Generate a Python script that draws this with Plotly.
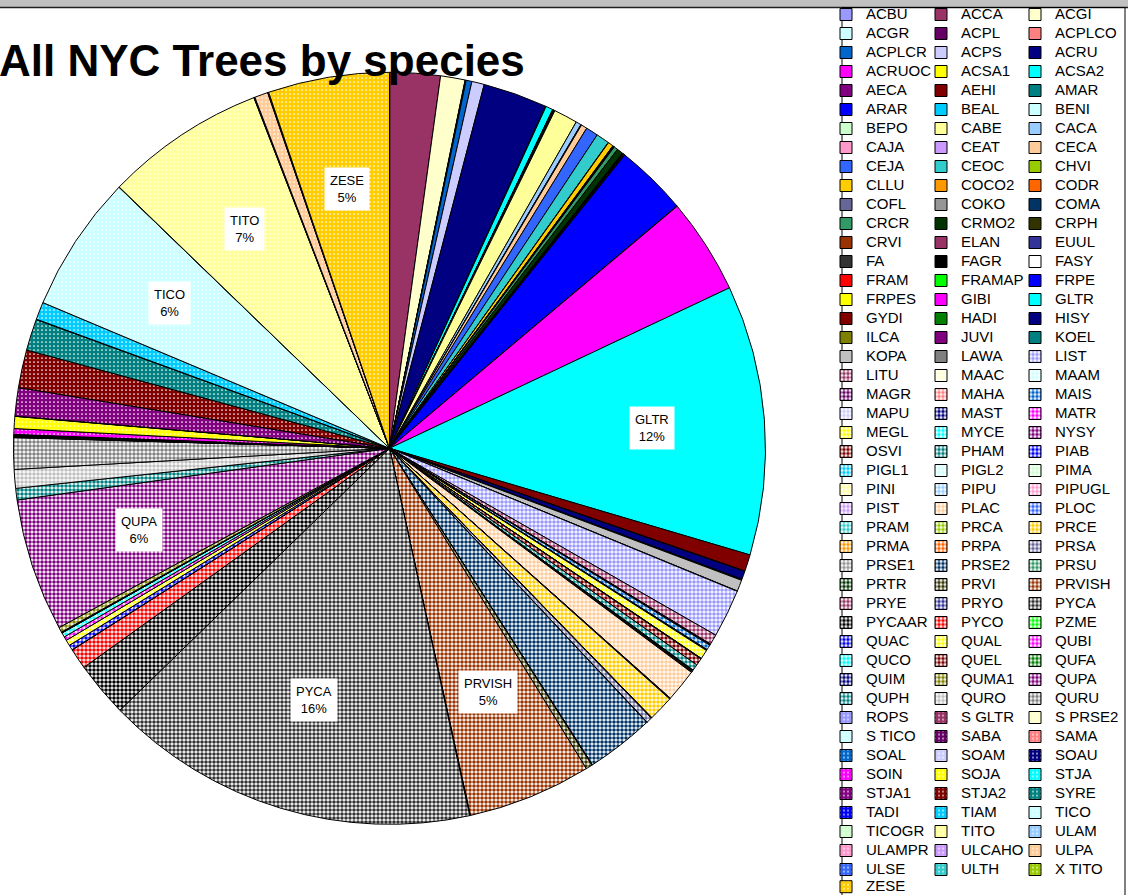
import math
import plotly.graph_objects as go

W, H = 1128, 895
FONT = "Liberation Sans, Arial, sans-serif"

# ---------------- data (legend order, 3 per row) ----------------
species = [
    "ACBU", "ACCA", "ACGI",
    "ACGR", "ACPL", "ACPLCO",
    "ACPLCR", "ACPS", "ACRU",
    "ACRUOC", "ACSA1", "ACSA2",
    "AECA", "AEHI", "AMAR",
    "ARAR", "BEAL", "BENI",
    "BEPO", "CABE", "CACA",
    "CAJA", "CEAT", "CECA",
    "CEJA", "CEOC", "CHVI",
    "CLLU", "COCO2", "CODR",
    "COFL", "COKO", "COMA",
    "CRCR", "CRMO2", "CRPH",
    "CRVI", "ELAN", "EUUL",
    "FA", "FAGR", "FASY",
    "FRAM", "FRAMAP", "FRPE",
    "FRPES", "GIBI", "GLTR",
    "GYDI", "HADI", "HISY",
    "ILCA", "JUVI", "KOEL",
    "KOPA", "LAWA", "LIST",
    "LITU", "MAAC", "MAAM",
    "MAGR", "MAHA", "MAIS",
    "MAPU", "MAST", "MATR",
    "MEGL", "MYCE", "NYSY",
    "OSVI", "PHAM", "PIAB",
    "PIGL1", "PIGL2", "PIMA",
    "PINI", "PIPU", "PIPUGL",
    "PIST", "PLAC", "PLOC",
    "PRAM", "PRCA", "PRCE",
    "PRMA", "PRPA", "PRSA",
    "PRSE1", "PRSE2", "PRSU",
    "PRTR", "PRVI", "PRVISH",
    "PRYE", "PRYO", "PYCA",
    "PYCAAR", "PYCO", "PZME",
    "QUAC", "QUAL", "QUBI",
    "QUCO", "QUEL", "QUFA",
    "QUIM", "QUMA1", "QUPA",
    "QUPH", "QURO", "QURU",
    "ROPS", "S GLTR", "S PRSE2",
    "S TICO", "SABA", "SAMA",
    "SOAL", "SOAM", "SOAU",
    "SOIN", "SOJA", "STJA",
    "STJA1", "STJA2", "SYRE",
    "TADI", "TIAM", "TICO",
    "TICOGR", "TITO", "ULAM",
    "ULAMPR", "ULCAHO", "ULPA",
    "ULSE", "ULTH", "X TITO",
    "ZESE",
]

# estimated share of all trees (%), same order as species
share_pct = [
    0.015, 2.17, 1.06,
    0.015, 0.015, 0.015,
    0.25, 0.54, 2.77,
    0.015, 0.015, 0.31,
    0.015, 0.015, 0.015,
    0.015, 0.015, 0.015,
    0.015, 1.03, 0.23,
    0.015, 0.015, 0.26,
    0.53, 0.57, 0.015,
    0.23, 0.015, 0.015,
    0.015, 0.015, 0.015,
    0.17, 0.26, 0.015,
    0.015, 0.015, 0.015,
    0.015, 0.015, 0.015,
    0.015, 0.015, 3.11,
    0.015, 4.14, 11.67,
    0.72, 0.015, 0.36,
    0.015, 0.015, 0.015,
    0.49, 0.015, 2.08,
    0.44, 0.015, 0.015,
    0.015, 0.015, 0.22,
    0.015, 0.015, 0.015,
    0.40, 0.015, 0.015,
    0.31, 0.27, 0.015,
    0.015, 0.015, 0.015,
    0.015, 0.015, 0.015,
    0.015, 1.42, 0.015,
    0.015, 0.015, 1.10,
    0.015, 0.015, 0.25,
    0.015, 2.94, 0.015,
    0.015, 0.28, 5.35,
    0.015, 0.015, 16.25,
    2.39, 0.89, 0.015,
    0.22, 0.25, 0.17,
    0.19, 0.015, 0.015,
    0.015, 0.22, 5.75,
    0.50, 0.81, 1.36,
    0.015, 0.015, 0.015,
    0.015, 0.015, 0.015,
    0.015, 0.015, 0.015,
    0.25, 0.52, 0.015,
    1.22, 1.64, 1.36,
    0.015, 0.76, 5.92,
    0.015, 6.94, 0.015,
    0.015, 0.015, 0.58,
    0.015, 0.015, 0.015,
    5.24,
]

title_text = "All NYC Trees by species"

# ---------------- styling ----------------
excel_palette = [
    "#9999FF", "#993366", "#FFFFCC", "#CCFFFF", "#660066", "#FF8080", "#0066CC", "#CCCCFF",
    "#000080", "#FF00FF", "#FFFF00", "#00FFFF", "#800080", "#800000", "#008080", "#0000FF",
    "#00CCFF", "#CCFFFF", "#CCFFCC", "#FFFF99", "#99CCFF", "#FF99CC", "#CC99FF", "#FFCC99",
    "#3366FF", "#33CCCC", "#99CC00", "#FFCC00", "#FF9900", "#FF6600", "#666699", "#969696",
    "#003366", "#339966", "#003300", "#333300", "#993300", "#993366", "#333399", "#333333",
    "#000000", "#FFFFFF", "#FF0000", "#00FF00", "#0000FF", "#FFFF00", "#FF00FF", "#00FFFF",
    "#800000", "#008000", "#000080", "#808000", "#800080", "#008080", "#C0C0C0", "#808080",
]
palette_no_white = [c for c in excel_palette if c != "#FFFFFF"]

colors, shapes, fgs, bgs, psizes, solids = [], [], [], [], [], []
for i in range(len(species)):
    n1 = len(excel_palette)
    n2 = n1 + len(palette_no_white)
    if i < n1:
        c = excel_palette[i]
        colors.append(c); shapes.append(""); fgs.append(c); bgs.append(c)
        psizes.append(4); solids.append(0.5)
    elif i < n2:
        c = palette_no_white[i - n1]
        colors.append(c); shapes.append("."); fgs.append(c); bgs.append("#FFFFFF")
        psizes.append(4); solids.append(0.62)
    else:
        c = excel_palette[(i - n2) % n1]
        colors.append(c); shapes.append("."); fgs.append("#FFFFFF"); bgs.append(c)
        psizes.append(4); solids.append(0.15)

# pie geometry (pixels)
CX, CY, R = 389.5, 448.3, 376.0
pie_domain = dict(x=[(CX - R) / W, (CX + R) / W], y=[(H - CY - R) / H, (H - CY + R) / H])


def marker_for(idx):
    return dict(
        colors=[colors[i] for i in idx],
        line=dict(color="black", width=1),
        pattern=dict(
            shape=[shapes[i] for i in idx],
            fgcolor=[fgs[i] for i in idx],
            bgcolor=[bgs[i] for i in idx],
            size=[psizes[i] for i in idx],
            solidity=[solids[i] for i in idx],
            fillmode="replace",
        ),
    )


all_idx = list(range(len(species)))
fig = go.Figure()
fig.add_trace(go.Pie(
    labels=species, values=share_pct, sort=False, direction="clockwise", rotation=0,
    marker=marker_for(all_idx), textinfo="none", showlegend=False,
    domain=pie_domain, hoverinfo="label+percent",
))

# legend columns (legend rows are 3 wide)
last = len(species) - 1
col1 = [i for i in all_idx if i % 3 == 0 and i != last]
col2 = [i for i in all_idx if i % 3 == 1]
col3 = [i for i in all_idx if i % 3 == 2]
col4 = [last]


def leg_label(s):
    return '<span style="font-size:15px">' + s + "</span>"


for idx, lid in [(col1, "legend"), (col2, "legend2"), (col3, "legend3"), (col4, "legend4")]:
    fig.add_trace(go.Pie(
        labels=[leg_label(species[i]) for i in idx],
        values=[share_pct[i] for i in idx],
        sort=False, direction="clockwise",
        marker=marker_for(idx), textinfo="none", hoverinfo="skip",
        domain=dict(x=[0.99, 0.9900001], y=[0.98, 0.9800001]),
        legend=lid, showlegend=True,
    ))

# data labels for the big slices
total = sum(share_pct)
annotations = []
cum = 0.0
for name, v in zip(species, share_pct):
    pct = v / total * 100
    if pct >= 5:
        mid = (cum + v / 2) / total * 2 * math.pi
        px = CX + 0.7 * R * math.sin(mid)
        py = CY - 0.7 * R * math.cos(mid)
        annotations.append(dict(
            x=px / W, y=1 - py / H, xref="paper", yref="paper", showarrow=False,
            xanchor="center", yanchor="middle",
            text=f"{name}<br>{pct:.0f}%", bgcolor="white", borderpad=5,
            font=dict(family=FONT, size=13, color="black"),
        ))
    cum += v

annotations.append(dict(
    x=0, y=1 - 60.7 / H, xref="paper", yref="paper", xanchor="left", yanchor="middle",
    xshift=-3, showarrow=False, text="<b>" + title_text + "</b>",
    font=dict(family=FONT, size=44, color="black"),
))

leg_common = dict(
    xanchor="left", yanchor="top", bgcolor="rgba(0,0,0,0)", borderwidth=0,
    font=dict(family=FONT, size=12, color="black"), traceorder="normal",
    itemclick=False, itemdoubleclick=False,
)

shapes_layout = [
    dict(type="rect", xref="paper", yref="paper", x0=0, x1=1, y0=1 - 7 / H, y1=1,
         fillcolor="#C0C0C0", line=dict(width=0)),
    dict(type="line", xref="paper", yref="paper", x0=0, x1=1, y0=1 - 7.5 / H, y1=1 - 7.5 / H,
         line=dict(color="#202020", width=1.5)),
    dict(type="rect", xref="paper", yref="paper", x0=842 / W, x1=1125 / W,
         y0=-0.02, y1=1 - 7.5 / H, line=dict(color="black", width=1), fillcolor="rgba(0,0,0,0)"),
]

fig.update_layout(
    width=W, height=H, autosize=False,
    margin=dict(l=0, r=0, t=0, b=0, autoexpand=False),
    paper_bgcolor="white", plot_bgcolor="white",
    font=dict(family=FONT, color="black"),
    showlegend=True,
    legend=dict(x=826 / W, y=1.0, **leg_common),
    legend2=dict(x=921 / W, y=1.0, **leg_common),
    legend3=dict(x=1015 / W, y=1.0, **leg_common),
    legend4=dict(x=826 / W, y=1 - 872.2 / H, **leg_common),
    annotations=annotations,
    shapes=shapes_layout,
)

fig.write_html("out.html")
